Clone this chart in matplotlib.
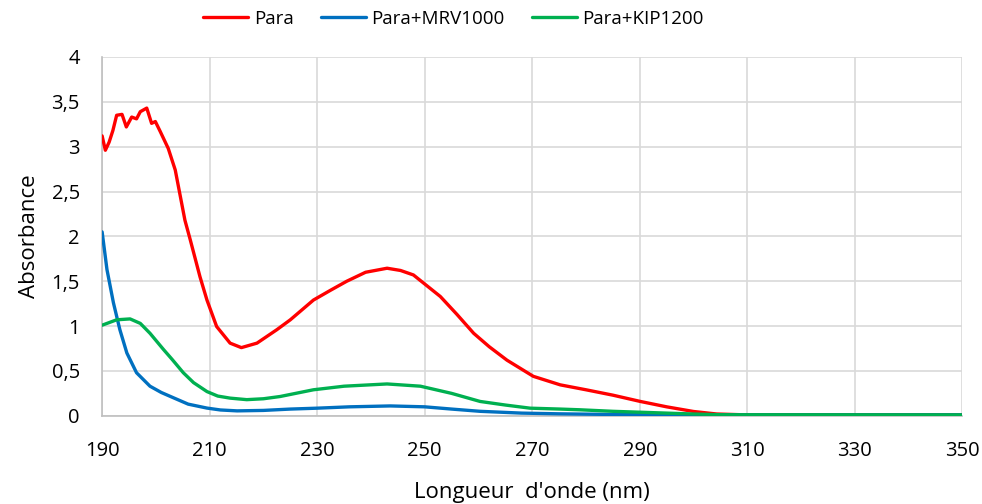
import matplotlib
matplotlib.use("Agg")
import matplotlib.pyplot as plt
from matplotlib.ticker import FuncFormatter, MultipleLocator

plt.rcParams['font.family'] = ['Open Sans', 'DejaVu Sans']

# UV absorbance spectra
para_nm = [190.0, 190.6, 191.3, 192.0, 192.7, 193.7, 194.5, 195.5, 196.4, 197.1,
           198.3, 199.2, 199.9, 200.8, 202.3, 203.6, 205.4, 206.4, 208.2, 209.5,
           211.3, 213.8, 215.9, 218.8, 222.5, 225.0, 229.3, 232.5, 235.5, 239.0,
           243.0, 245.5, 247.9, 252.9, 256.0, 259.1, 262.0, 265.3, 270.2, 275.2,
           280.0, 285.0, 290.1, 295.0, 300.0, 304.3, 310.0, 350.0]
para_abs = [3.12, 2.96, 3.05, 3.18, 3.35, 3.36, 3.22, 3.33, 3.31, 3.39,
            3.43, 3.26, 3.28, 3.17, 2.98, 2.74, 2.18, 1.96, 1.55, 1.29,
            0.995, 0.81, 0.76, 0.81, 0.96, 1.07, 1.29, 1.40, 1.50, 1.60,
            1.645, 1.62, 1.57, 1.33, 1.13, 0.92, 0.77, 0.62, 0.44, 0.345,
            0.29, 0.23, 0.16, 0.10, 0.048, 0.02, 0.01, 0.01]

mrv_nm = [190.0, 190.9, 192.1, 193.3, 194.6, 196.4, 198.9, 201.0, 203.3, 206.0,
          209.5, 212.0, 215.1, 220.0, 225.0, 230.0, 236.0, 243.6, 250.0, 255.0,
          260.3, 268.0, 275.0, 285.0, 300.0, 350.0]
mrv_abs = [2.05, 1.63, 1.26, 0.96, 0.70, 0.48, 0.33, 0.26, 0.20, 0.13,
           0.086, 0.065, 0.055, 0.06, 0.075, 0.085, 0.10, 0.11, 0.10, 0.075,
           0.05, 0.03, 0.022, 0.015, 0.01, 0.01]

kip_nm = [190.0, 192.7, 195.2, 197.1, 198.9, 201.4, 203.0, 205.1, 207.0, 209.5,
          211.5, 213.8, 216.9, 220.0, 223.1, 229.3, 235.0, 243.0, 249.2, 255.0,
          260.3, 265.0, 269.6, 275.2, 278.9, 285.0, 290.0, 300.0, 305.0, 350.0]
kip_abs = [1.01, 1.07, 1.08, 1.03, 0.92, 0.74, 0.63, 0.48, 0.37, 0.27,
           0.22, 0.197, 0.18, 0.19, 0.215, 0.29, 0.33, 0.355, 0.33, 0.25,
           0.16, 0.12, 0.085, 0.075, 0.067, 0.05, 0.04, 0.02, 0.012, 0.01]

x_ticks = [190, 210, 230, 250, 270, 290, 310, 330, 350]

series = [
    ("Para", para_nm, para_abs, "#ff0000"),
    ("Para+MRV1000", mrv_nm, mrv_abs, "#0070c0"),
    ("Para+KIP1200", kip_nm, kip_abs, "#00b050"),
]

fig = plt.figure(figsize=(9.82, 5.04), dpi=100)
ax = fig.add_axes([0.104, 0.175, 0.876, 0.712])

for label, x, y, c in series:
    ax.plot(x, y, color=c, lw=2.4, label=label, solid_capstyle="round",
            solid_joinstyle="round", zorder=3)

ax.set_xlim(190, 350)
ax.set_ylim(0, 4)
ax.set_xticks(x_ticks)
ax.yaxis.set_major_locator(MultipleLocator(0.5))
ax.yaxis.set_major_formatter(FuncFormatter(
    lambda v, p: ("%g" % v).replace(".", ",")))

ax.grid(True, color="#d9d9d9", lw=1.2, zorder=0)
for s in ["top", "right"]:
    ax.spines[s].set_visible(False)
for s in ["left", "bottom"]:
    ax.spines[s].set_color("#bfbfbf")
    ax.spines[s].set_linewidth(1.2)
ax.tick_params(length=0, labelsize=14.5, colors="#000000")
ax.tick_params(axis="x", pad=18)
ax.tick_params(axis="y", pad=16)

ax.set_xlabel("Longueur  d'onde (nm)", fontsize=16, labelpad=15)
ax.set_ylabel("Absorbance", fontsize=16, labelpad=8)

fig.legend(*ax.get_legend_handles_labels(), loc="center left",
           bbox_to_anchor=(203 / 982, 1 - 19 / 504), ncol=3, frameon=False,
           fontsize=13.5, handlelength=2.4, columnspacing=1.45,
           handletextpad=0.3, borderpad=0, borderaxespad=0)

fig.savefig("out.png", dpi=100)
